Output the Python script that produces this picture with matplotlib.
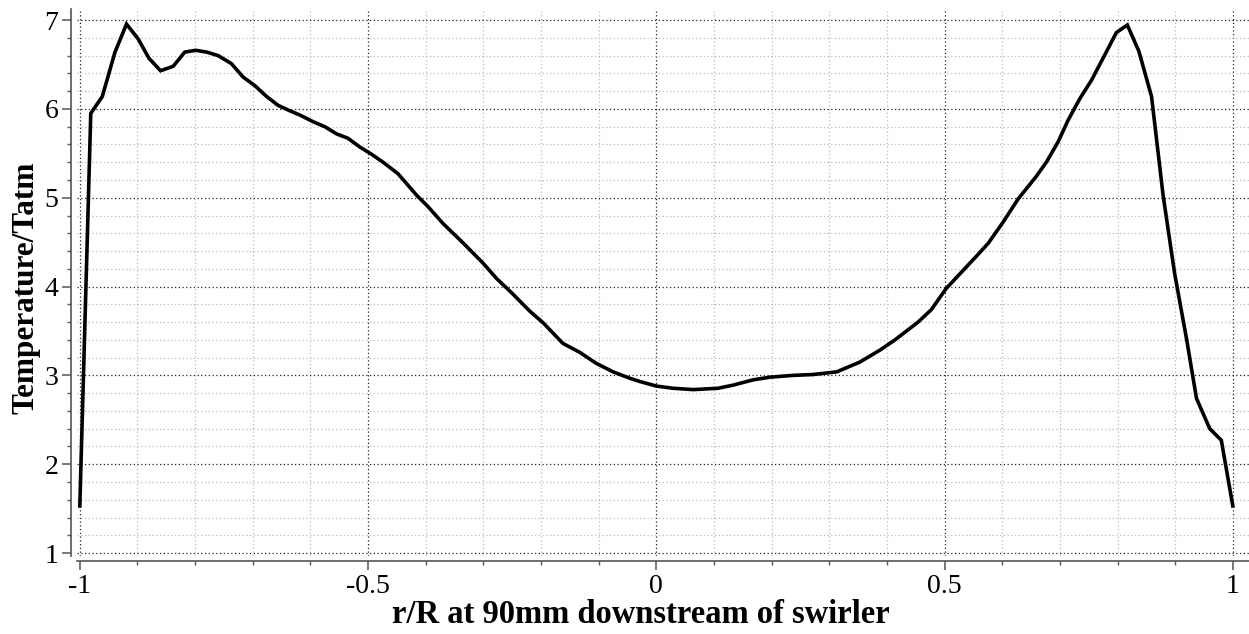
import matplotlib
matplotlib.use("Agg")
import matplotlib.pyplot as plt
from matplotlib.ticker import MultipleLocator, FixedLocator

# Radial temperature profile, r/R vs T/Tatm
r_over_R = [-1.0, -0.981, -0.961, -0.939, -0.919, -0.899, -0.880, -0.860, -0.838, -0.818,
            -0.799, -0.780, -0.760, -0.737, -0.717, -0.696, -0.676, -0.656, -0.636, -0.618,
            -0.595, -0.575, -0.555, -0.535, -0.514, -0.494, -0.474, -0.448, -0.416, -0.396,
            -0.370, -0.335, -0.300, -0.277, -0.251, -0.219, -0.196, -0.162, -0.133, -0.104,
            -0.075, -0.047, -0.028, 0.0, 0.029, 0.064, 0.107, 0.133, 0.168, 0.197,
            0.237, 0.272, 0.313, 0.353, 0.388, 0.414, 0.454, 0.477, 0.503, 0.555,
            0.576, 0.602, 0.628, 0.659, 0.677, 0.697, 0.714, 0.735, 0.755, 0.778,
            0.798, 0.817, 0.837, 0.859, 0.879, 0.899, 0.920, 0.937, 0.960, 0.980, 1.0]
temperature = [1.53, 5.95, 6.14, 6.64, 6.955, 6.79, 6.57, 6.43, 6.48, 6.64,
               6.66, 6.64, 6.60, 6.51, 6.36, 6.26, 6.14, 6.04, 5.98, 5.93,
               5.855, 5.80, 5.72, 5.67, 5.57, 5.49, 5.40, 5.27, 5.03, 4.90,
               4.71, 4.49, 4.26, 4.09, 3.93, 3.72, 3.59, 3.36, 3.26, 3.135,
               3.04, 2.97, 2.93, 2.88, 2.855, 2.84, 2.855, 2.89, 2.95, 2.98,
               3.00, 3.01, 3.04, 3.15, 3.285, 3.40, 3.60, 3.74, 3.98, 4.34,
               4.49, 4.73, 4.99, 5.24, 5.405, 5.63, 5.87, 6.12, 6.325, 6.61,
               6.86, 6.945, 6.65, 6.14, 5.03, 4.15, 3.40, 2.74, 2.40, 2.27, 1.53]

x_ticks = [-1, -0.5, 0, 0.5, 1]
x_tick_labels = ["-1", "-0.5", "0", "0.5", "1"]
y_ticks = [1, 2, 3, 4, 5, 6, 7]
y_tick_labels = ["1", "2", "3", "4", "5", "6", "7"]

plt.rcParams["font.family"] = ["Liberation Serif", "DejaVu Serif"]

fig = plt.figure(figsize=(12.49, 6.34), dpi=100)
ax = fig.add_axes([0.0616, 0.1235, 0.9393, 0.863])

ax.plot(r_over_R, temperature, color="black", lw=2.6, solid_joinstyle="miter", zorder=3)

ax.set_xlim(-1.005, 1.03)
ax.set_ylim(0.97, 7.13)

ax.xaxis.set_major_locator(FixedLocator(x_ticks))
ax.set_xticklabels(x_tick_labels)
ax.xaxis.set_minor_locator(MultipleLocator(0.1))
ax.yaxis.set_major_locator(FixedLocator(y_ticks))
ax.set_yticklabels(y_tick_labels)
ax.yaxis.set_minor_locator(MultipleLocator(0.2))

ax.grid(which="major", color="#222222", linestyle=(0, (1, 2)), linewidth=0.9, zorder=1)
ax.grid(which="minor", color="#bbbbbb", linestyle=(0, (1, 2)), linewidth=0.9, zorder=0)
ax.set_axisbelow(True)

for side in ("top", "right"):
    ax.spines[side].set_visible(False)
for side in ("left", "bottom"):
    ax.spines[side].set_position(("outward", 4))
    ax.spines[side].set_color("#555555")
    ax.spines[side].set_linewidth(1.2)

ax.tick_params(which="major", direction="out", length=6.5, width=1.1, color="#555555",
               labelsize=20, pad=3)
ax.tick_params(which="minor", direction="out", length=3, width=1.0, color="#555555")

ax.set_xlabel("r/R at 90mm downstream of swirler", fontsize=23.5, fontweight="bold")
ax.xaxis.set_label_coords(0.481, -0.08)
ax.set_ylabel("Temperature/Tatm", fontsize=22.5, fontweight="bold")
ax.yaxis.set_label_coords(-0.031, 0.49)

fig.savefig("out.png", dpi=100)
